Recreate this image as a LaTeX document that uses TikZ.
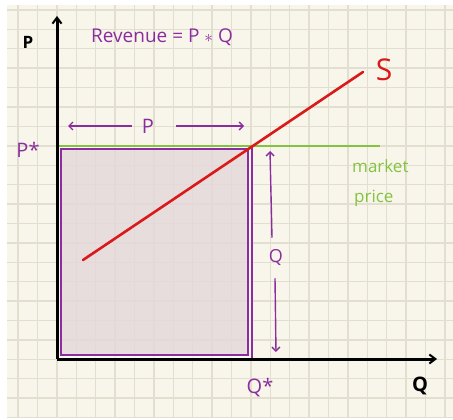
\documentclass[tikz,border=0pt]{standalone}
\usepackage{fontspec}
\setmainfont{Open Sans}
\usetikzlibrary{arrows.meta}
\definecolor{paper}{HTML}{F8F6EA}
\definecolor{gridc}{HTML}{E2DFD0}
\definecolor{purp}{HTML}{8B2D9E}
\definecolor{mgreen}{HTML}{84C341}
\definecolor{sred}{HTML}{DA1A1A}
\definecolor{boxfill}{HTML}{D9C6C9}
\tikzset{
  gridline/.style={gridc, line width=1.4pt},
  axisline/.style={black, line width=3pt, -{Straight Barb[length=6pt,width=9pt,line width=2pt]}},
  purparrow/.style={purp, line width=1.4pt, -{Straight Barb[length=4pt,width=8pt]}},
  purptext/.style={text=purp, inner sep=0pt},
  lbl/.style={inner sep=0pt}
}
\begin{document}
\begin{tikzpicture}[x=1pt,y=-1pt]
\useasboundingbox (0,0) rectangle (453,420);
\fill[white] (0,0) rectangle (453,420);
\fill[paper] (7,5) rectangle (453,417);
\foreach \i in {0,...,22} \draw[gridline] ({18+19.4*\i},5) -- ({18+19.4*\i},417);
\foreach \i in {0,...,21} \draw[gridline] (7,{10+19.4*\i}) -- (453,{10+19.4*\i});
% revenue box
\fill[white, fill opacity=0.6] (58,146) rectangle (252,359);
\draw[purp, line width=1.2pt] (252,146) -- (252,359);
\fill[boxfill, fill opacity=0.55] (61,149) rectangle (248,355);
\draw[purp, line width=1.3pt] (61,149) rectangle (248,355);
% coordinates
\coordinate (origin) at (57,359);
\coordinate (ytop) at (57,16);
\coordinate (xend) at (437,359);
\coordinate (gA) at (58,146);
\coordinate (gB) at (380,146);
\coordinate (sA) at (83,260);
\coordinate (sB) at (363,72);
% market price line
\draw[mgreen, line width=2pt] (gA) -- (gB);
% supply
\draw[sred, line width=2.6pt, line cap=round] (sA) -- (sB);
% axes
\draw[axisline] (origin) -- (ytop);
\draw[axisline] (origin) -- (xend);
% labels
\node[lbl, font=\bfseries\fontsize{17}{17}\selectfont] (plab) at (28,42) {P};
\node[lbl, font=\bfseries\fontsize{20}{20}\selectfont] (qlab) at (420,386) {Q};
\node[purptext, font=\fontsize{19}{19}\selectfont, anchor=west] (rev) at (91,37) {Revenue = P $\ast$ Q};
\node[text=sred, inner sep=0pt, font=\fontsize{30}{30}\selectfont] (slab) at (384,70) {S};
\node[purptext, font=\fontsize{20}{20}\selectfont] (pstar) at (28,150) {P*};
\node[purptext, font=\fontsize{20}{20}\selectfont] (qstar) at (260,388) {Q*};
\node[text=mgreen, inner sep=0pt, font=\fontsize{17}{17}\selectfont, anchor=west] (mkt) at (352,166) {market};
\node[text=mgreen, inner sep=0pt, font=\fontsize{17}{17}\selectfont, anchor=west] (prc) at (354,198) {price};
% P width arrows
\node[purptext, font=\fontsize{20}{20}\selectfont] (pw) at (148,126) {P};
\coordinate (pwL) at (68,126);
\coordinate (pwR) at (244,126);
\draw[purparrow] ([xshift=-10pt]pw.west) -- (pwL);
\draw[purparrow] ([xshift=22pt]pw.east) -- (pwR);
% Q height arrows
\node[purptext, font=\fontsize{18}{18}\selectfont] (qh) at (276,258) {Q};
\coordinate (qhT) at (270,151);
\coordinate (qhB) at (276,352);
\draw[purparrow] ([xshift=-4pt,yshift=12pt]qh.north) -- (qhT);
\draw[purparrow] ([xshift=-1pt,yshift=-12pt]qh.south) -- (qhB);
\end{tikzpicture}
\end{document}
